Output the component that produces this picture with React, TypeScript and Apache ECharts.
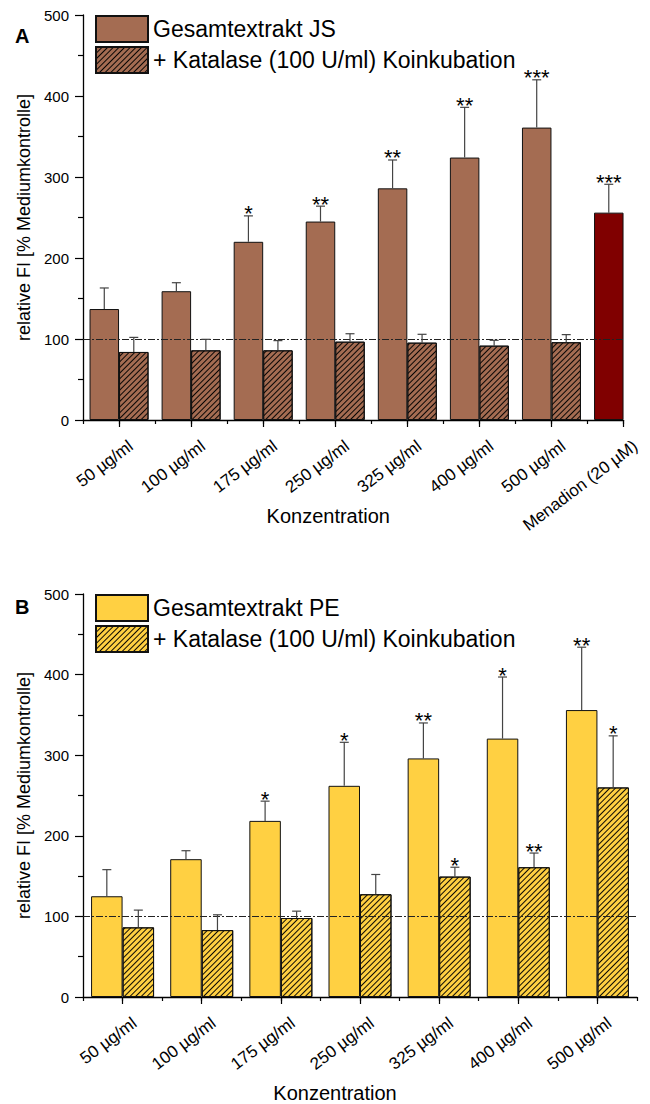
import React, { useEffect, useRef } from "react";
import * as echarts from "echarts";

// ---- data ----
const catsA = ["50 µg/ml", "100 µg/ml", "175 µg/ml", "250 µg/ml", "325 µg/ml", "400 µg/ml", "500 µg/ml", "Menadion (20 µM)"];
const catsB = ["50 µg/ml", "100 µg/ml", "175 µg/ml", "250 µg/ml", "325 µg/ml", "400 µg/ml", "500 µg/ml"];

const jsMean = [137, 159, 220, 245, 286, 324, 361, 256];
const jsSd = [26, 10.5, 32, 19, 35, 62, 59, 35];
const jsStars = ["", "", "*", "**", "**", "**", "***", "***"];

const jsKatMean = [84, 86, 86, 96.7, 95.5, 91.8, 96];
const jsKatSd = [18, 13.6, 12, 9.8, 10.3, 6.6, 9.4];
const jsKatStars = ["", "", "", "", "", "", ""];

const peMean = [125, 171, 218.5, 262, 296, 320.6, 356];
const peSd = [33, 10.5, 24.5, 54, 44, 76.4, 78];
const peStars = ["", "", "*", "*", "**", "*", "**"];

const peKatMean = [86.4, 83, 98, 127.5, 149.4, 161, 260];
const peKatSd = [21.4, 19, 8.5, 24.5, 11.6, 17.6, 64];
const peKatStars = ["", "", "", "", "*", "**", "*"];

const yTicks = { min: 0, max: 500, interval: 100 };
const controlLevel = 100;

const FONT = "Liberation Sans, Arial, sans-serif";
const BW_A = 29.5;
const BW_B = 31.5;
const BROWN = "#A46C52";
const DARKRED = "#800000";
const YELLOW = "#FFD042";

const hatch = {
  symbol: "rect",
  symbolSize: 1,
  dashArrayX: [1, 0],
  dashArrayY: [1, 3],
  rotation: -Math.PI / 4,
  color: "rgba(0,0,0,0.95)",
};

function errRender(stars: string[], dx: number) {
  return (params: any, api: any) => {
    const x = api.value(0);
    const m = api.value(1);
    const t = api.value(2);
    const p0 = api.coord([x, m]);
    const p1 = api.coord([x, t]);
    const cx = p0[0] + dx;
    const st = { stroke: "#444", lineWidth: 1.2 };
    const children: any[] = [
      { type: "line", shape: { x1: cx, y1: p0[1], x2: cx, y2: p1[1] }, style: st },
      { type: "line", shape: { x1: cx - 4.5, y1: p1[1], x2: cx + 4.5, y2: p1[1] }, style: st },
    ];
    const s = stars[params.dataIndex];
    if (s) {
      children.push({
        type: "text",
        x: cx,
        y: p1[1] - 2,
        style: { text: s, fontSize: 22, fontFamily: FONT, fill: "#000", align: "center", verticalAlign: "middle" },
      });
    }
    return { type: "group", children };
  };
}

function halfCats(n: number) {
  const out: string[] = [];
  for (let i = 1; i <= 2 * n; i++) out.push(String(i / 2));
  return out;
}

function xAxesFor(gridIndex: number, cats: string[], maxV: number) {
  return [
    {
      type: "value",
      gridIndex,
      min: 0.5,
      max: maxV,
      interval: 0.5,
      position: "bottom",
      splitLine: { show: false },
      axisLine: { show: true, onZero: false, lineStyle: { color: "#000", width: 1.3 } },
      axisTick: { show: true, length: 4, lineStyle: { color: "#000", width: 1.2 } },
      axisLabel: {
        rotate: 37,
        fontSize: 17,
        color: "#000",
        fontFamily: FONT,
        margin: 8,
        verticalAlign: "top",
        lineHeight: 40,
        formatter: (v: number) => (Number.isInteger(v) ? cats[v - 1] || "" : ""),
      },
      name: "Konzentration",
      nameLocation: "middle",
      nameGap: 86,
      nameMoveOverlap: false,
      nameTextStyle: { fontSize: 20, color: "#000", fontFamily: FONT, padding: [0, 50, 0, 0] },
    },
    {
      type: "category",
      gridIndex,
      data: halfCats(maxV),
      boundaryGap: false,
      position: "bottom",
      axisLine: { show: false },
      axisLabel: { show: false },
      splitLine: { show: false },
      axisTick: {
        show: true,
        length: 7,
        interval: (i: number) => i % 2 === 1,
        lineStyle: { color: "#000", width: 1.2 },
      },
    },
  ];
}

function yAxisFor(gridIndex: number) {
  return {
    type: "value",
    gridIndex,
    min: yTicks.min,
    max: yTicks.max,
    interval: yTicks.interval,
    splitLine: { show: false },
    axisLine: { show: true, lineStyle: { color: "#000", width: 1.3 } },
    axisTick: { show: true, length: 8, lineStyle: { color: "#000", width: 1.2 } },
    minorTick: { show: true, splitNumber: 2, length: 5, lineStyle: { color: "#000", width: 1.2 } },
    minorSplitLine: { show: false },
    axisLabel: { fontSize: 15, color: "#000", fontFamily: FONT, margin: 14 },
    name: "relative FI [% Mediumkontrolle]",
    nameLocation: "middle",
    nameGap: 50,
    nameMoveOverlap: false,
    nameTextStyle: { fontSize: 18, color: "#000", fontFamily: FONT },
  };
}

const refLine = {
  silent: true,
  symbol: "none",
  label: { show: false },
  lineStyle: { color: "#222", width: 1, type: [7, 2, 2, 2] },
  data: [{ yAxis: controlLevel }],
};

function legendAt(top: number, names: string[]) {
  return {
    left: 95,
    top,
    padding: 0,
    orient: "vertical",
    itemWidth: 52,
    itemHeight: 26,
    itemGap: 3,
    icon: "rect",
    selectedMode: false,
    textStyle: { fontSize: 23, color: "#000", fontFamily: FONT },
    data: names,
  };
}

export default function App() {
  const ref = useRef<HTMLDivElement>(null);
  useEffect(() => {
    if (!ref.current) return;
    const chart = echarts.init(ref.current, undefined, { renderer: "svg" });
    const option: any = {
      animation: false,
      backgroundColor: "#fff",
      textStyle: { fontFamily: FONT },
      grid: [
        { left: 83, top: 15, width: 554, height: 405 },
        { left: 83, top: 594, width: 554, height: 405 },
      ],
      xAxis: [...xAxesFor(0, catsA, 8), ...xAxesFor(1, catsB, 7.5)],
      yAxis: [yAxisFor(0), yAxisFor(1)],
      legend: [
        legendAt(15, ["Gesamtextrakt JS", "+ Katalase (100 U/ml) Koinkubation"]),
        legendAt(594, ["Gesamtextrakt PE", "+ Katalase (100 U/ml) Koinkubation "]),
      ],
      graphic: [
        { type: "text", left: 15, top: 26, style: { text: "A", fontSize: 20, fontWeight: "bold", fill: "#000", fontFamily: FONT } },
        { type: "text", left: 15, top: 597, style: { text: "B", fontSize: 20, fontWeight: "bold", fill: "#000", fontFamily: FONT } },
      ],
      series: [
        {
          name: "Gesamtextrakt JS",
          type: "bar",
          xAxisIndex: 0,
          yAxisIndex: 0,
          barWidth: BW_A,
          barGap: "0%",
          itemStyle: { color: BROWN, borderColor: "#111", borderWidth: 1 },
          data: jsMean.map((v, i) =>
            i === 7 ? { value: [i + 1, v], itemStyle: { color: DARKRED } } : [i + 1, v]
          ),
          markLine: refLine,
        },
        {
          name: "+ Katalase (100 U/ml) Koinkubation",
          type: "bar",
          xAxisIndex: 0,
          yAxisIndex: 0,
          barWidth: BW_A,
          barGap: "0%",
          itemStyle: { color: BROWN, borderColor: "#111", borderWidth: 1, decal: hatch },
          data: jsKatMean.map((v, i) => [i + 1, v]),
        },
        {
          type: "custom",
          xAxisIndex: 0,
          yAxisIndex: 0,
          renderItem: errRender(jsStars, -BW_A / 2),
          data: jsMean.map((v, i) => [i + 1, v, v + jsSd[i]]),
          z: 5,
        },
        {
          type: "custom",
          xAxisIndex: 0,
          yAxisIndex: 0,
          renderItem: errRender(jsKatStars, BW_A / 2),
          data: jsKatMean.map((v, i) => [i + 1, v, v + jsKatSd[i]]),
          z: 5,
        },
        {
          name: "Gesamtextrakt PE",
          type: "bar",
          xAxisIndex: 2,
          yAxisIndex: 1,
          barWidth: BW_B,
          barGap: "0%",
          itemStyle: { color: YELLOW, borderColor: "#111", borderWidth: 1 },
          data: peMean.map((v, i) => [i + 1, v]),
          markLine: refLine,
        },
        {
          name: "+ Katalase (100 U/ml) Koinkubation ",
          type: "bar",
          xAxisIndex: 2,
          yAxisIndex: 1,
          barWidth: BW_B,
          barGap: "0%",
          itemStyle: { color: YELLOW, borderColor: "#111", borderWidth: 1, decal: hatch },
          data: peKatMean.map((v, i) => [i + 1, v]),
        },
        {
          type: "custom",
          xAxisIndex: 2,
          yAxisIndex: 1,
          renderItem: errRender(peStars, -BW_B / 2),
          data: peMean.map((v, i) => [i + 1, v, v + peSd[i]]),
          z: 5,
        },
        {
          type: "custom",
          xAxisIndex: 2,
          yAxisIndex: 1,
          renderItem: errRender(peKatStars, BW_B / 2),
          data: peKatMean.map((v, i) => [i + 1, v, v + peKatSd[i]]),
          z: 5,
        },
      ],
    };
    chart.setOption(option);
    return () => chart.dispose();
  }, []);
  return (
    <div
      ref={ref}
      style={{ position: "absolute", left: 0, top: 0, width: 650, height: 1104, background: "#fff" }}
    />
  );
}
